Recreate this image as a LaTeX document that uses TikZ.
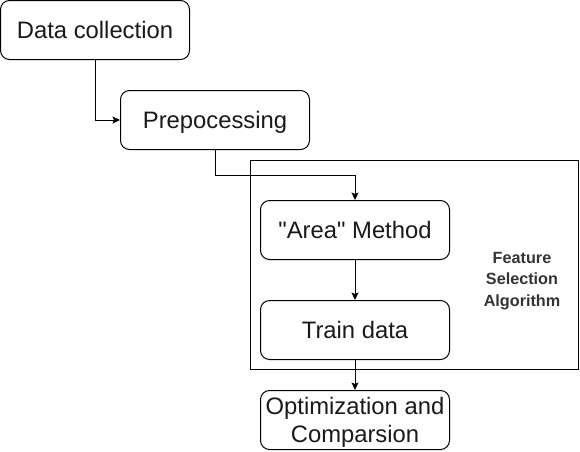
\documentclass[tikz,border=0pt]{standalone}
\usepackage{fontspec}
\setmainfont{Liberation Sans}[Ligatures=TeXOff]
\usetikzlibrary{arrows.meta}
\begin{document}
\begin{tikzpicture}[x=1pt,y=-1pt,
  stepbox/.style={draw=black, line width=1pt, rounded corners=9pt, minimum width=189pt, minimum height=59pt, inner sep=0pt, text depth=0pt, align=center, text=black!90, font=\fontsize{23.8}{28}\selectfont},
  conn/.style={draw=black, line width=1pt, -{Stealth[length=7.5pt,width=7pt,inset=1.5pt]}},
  grp/.style={draw=black, line width=1pt},
  lbl/.style={align=center, text=black!80, font=\bfseries\fontsize{16.2}{21.5}\selectfont, inner sep=0pt}
]
\useasboundingbox (0,0) rectangle (580,451);
\draw[grp] (250.5,160.5) rectangle (578.5,369.5);
\node[lbl] (lab) at (522,281) {Feature\\Selection\\Algorithm};
\node[stepbox] (dc) at (95,30) {Data collection};
\node[stepbox] (pre) at (215,120) {Prepocessing};
\node[stepbox] (area) at (355,230) {"Area" Method};
\node[stepbox] (train) at (355,330) {Train data};
\node[stepbox] (opt) at (355,420) {Optimization and\\Comparsion};
\draw[conn] (dc.south) |- (pre.west);
\draw[conn] (pre.south) -- ++(0,25) -| (area.north);
\draw[conn] (area.south) -- (train.north);
\draw[conn] (train.south) -- (opt.north);
\end{tikzpicture}
\end{document}
